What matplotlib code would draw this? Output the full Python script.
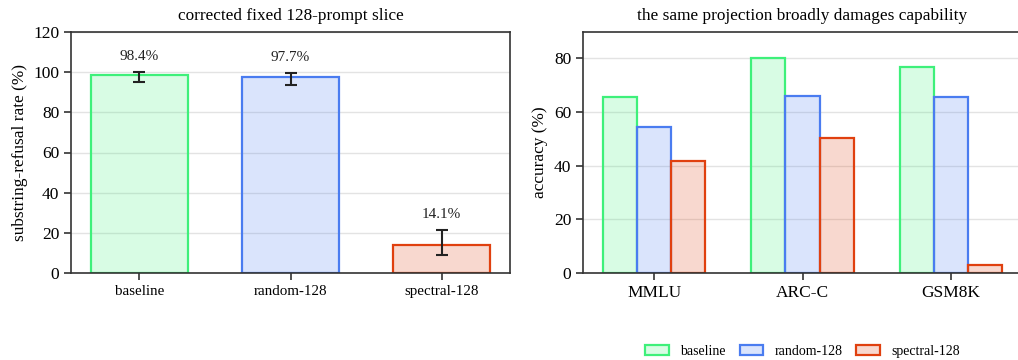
import numpy as np
import matplotlib.pyplot as plt

plt.rcParams['font.family'] = ['Liberation Serif', 'DejaVu Serif']

# refusal panel data
conditions = ['baseline', 'random-128', 'spectral-128']
refusal = [98.4, 97.7, 14.1]
ci_low = [94.9, 93.7, 9.2]
ci_high = [100.0, 99.5, 21.3]

# capability panel data
benchmarks = ['MMLU', 'ARC-C', 'GSM8K']
acc_baseline = [65.4, 80.0, 76.8]
acc_random = [54.4, 65.8, 65.6]
acc_spectral = [41.8, 50.4, 3.0]

edge_colors = ['#3ef07a', '#4a7cf0', '#e0400f']
spine_col = '#333333'

fig = plt.figure(figsize=(10.18, 3.6), dpi=100)
ax1 = fig.add_axes([71 / 1018, 1 - 273 / 360, 439 / 1018, 241 / 360])
ax2 = fig.add_axes([583 / 1018, 1 - 273 / 360, 439 / 1018, 241 / 360])


def style(ax):
    for s in ax.spines.values():
        s.set_color(spine_col)
        s.set_linewidth(1.2)
    ax.tick_params(direction='out', length=5, width=1.2, color=spine_col, labelsize=12.5)
    ax.grid(axis='y', color='#e3e3e3', linewidth=1.0)
    ax.set_axisbelow(True)


# left: refusal rate
x = np.arange(len(conditions))
yerr = [np.array(refusal) - np.array(ci_low), np.array(ci_high) - np.array(refusal)]
ax1.bar(x, refusal, width=0.64, color=[c + '33' for c in edge_colors],
        edgecolor=edge_colors, linewidth=1.6)
ax1.errorbar(x, refusal, yerr=yerr, fmt='none', ecolor='#222222',
             elinewidth=1.5, capsize=4.5, capthick=1.5)
for xi, v, hi in zip(x, refusal, ci_high):
    ax1.text(xi, hi + 4.5, f'{v:.1f}%', ha='center', va='bottom', fontsize=11, color='#222222')
ax1.set_ylim(0, 120)
ax1.set_xticks(x)
ax1.set_xticklabels(conditions)
ax1.set_ylabel('substring-refusal rate (%)', fontsize=12.4)
ax1.set_title('corrected fixed 128-prompt slice', fontsize=12.4, pad=9)
style(ax1)
ax1.tick_params(axis='x', labelsize=10.8)

# right: capability
xb = np.arange(len(benchmarks))
w = 0.23
series = [('baseline', acc_baseline), ('random-128', acc_random), ('spectral-128', acc_spectral)]
for i, (name, vals) in enumerate(series):
    ax2.bar(xb + (i - 1) * w, vals, width=w, color=edge_colors[i] + '33',
            edgecolor=edge_colors[i], linewidth=1.6, label=name)
ax2.set_ylim(0, 89.7)
ax2.set_yticks([0, 20, 40, 60, 80])
ax2.set_xticks(xb)
ax2.set_xticklabels(benchmarks)
ax2.set_ylabel('accuracy (%)', fontsize=12.4)
ax2.set_title('the same projection broadly damages capability', fontsize=12.4, pad=9)
style(ax2)
ax2.legend(loc='center', bbox_to_anchor=(0.5, -0.325), ncol=3, frameon=False,
           fontsize=10, handlelength=1.7, handletextpad=0.8, columnspacing=1.0)

fig.savefig('out.png', dpi=100)
